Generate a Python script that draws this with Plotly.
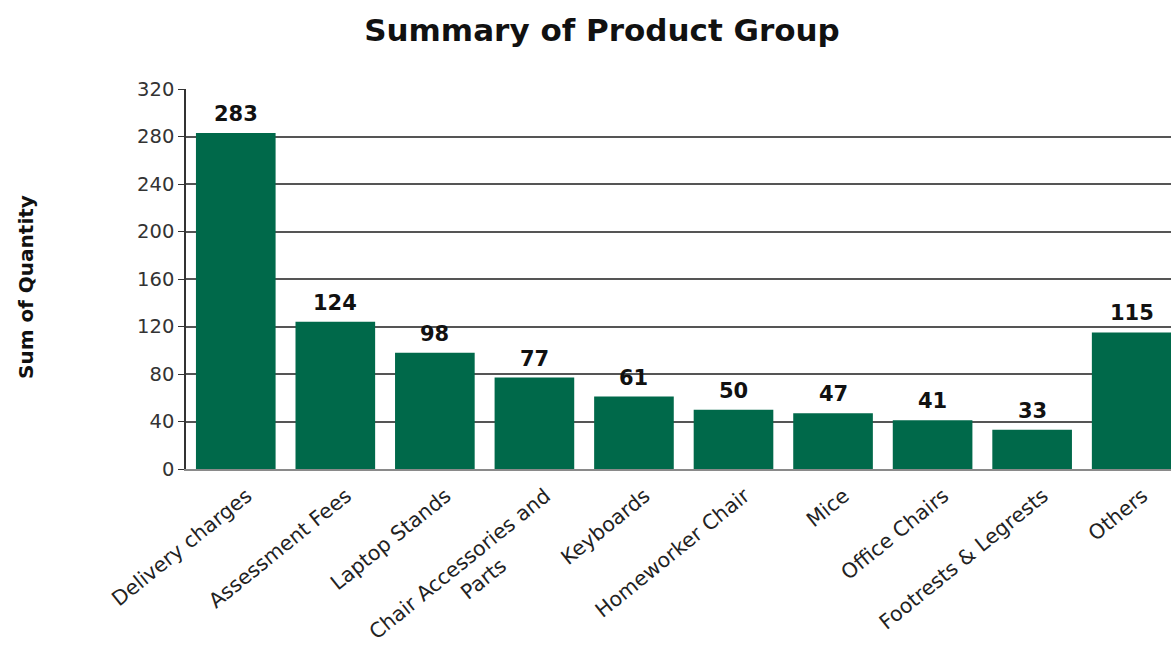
import plotly.graph_objects as go

# Product groups and their summed quantities
categories = [
    "Delivery charges",
    "Assessment Fees",
    "Laptop Stands",
    "Chair Accessories and<br>Parts" + "\u00a0" * 12,
    "Keyboards",
    "Homeworker Chair",
    "Mice",
    "Office Chairs",
    "Footrests & Legrests",
    "Others",
]
quantities = [283, 124, 98, 77, 61, 50, 47, 41, 33, 115]
y_ticks = [0, 40, 80, 120, 160, 200, 240, 280, 320]

BAR_GREEN = "#00694A"
FONT = "DejaVu Sans, Verdana, sans-serif"

positions = list(range(len(categories)))

fig = go.Figure(
    go.Bar(
        x=positions,
        y=quantities,
        marker=dict(color=BAR_GREEN, line=dict(width=0)),
        hoverinfo="skip",
    )
)

# value labels sitting just above each bar
value_labels = [
    dict(
        x=xi,
        y=v,
        xref="x",
        yref="y",
        text=f"<b>{v}</b>",
        showarrow=False,
        xanchor="center",
        yanchor="bottom",
        yshift=5,
        font=dict(family=FONT, size=21, color="#111111"),
    )
    for xi, v in zip(positions, quantities)
]

fig.update_layout(
    width=1171,
    height=646,
    margin=dict(l=186, r=0, t=89, b=177, autoexpand=False),
    paper_bgcolor="white",
    plot_bgcolor="white",
    bargap=0.2,
    showlegend=False,
    font=dict(family=FONT, color="#222222"),
    title=dict(
        text="<b>Summary of Product Group</b>",
        x=602 / 1171,
        xanchor="center",
        y=1 - 30 / 646,
        yanchor="middle",
        font=dict(family=FONT, size=31, color="#111111"),
    ),
    xaxis=dict(
        range=[-0.5, 9.395],
        tickmode="array",
        tickvals=positions,
        ticktext=categories,
        tickangle=-39,
        tickfont=dict(family=FONT, size=20.5, color="#222222"),
        showgrid=False,
        showline=True,
        linecolor="#8a8a8a",
        linewidth=2,
        ticks="",
        ticklabelstandoff=5,
        ticklabelshift=11,
        zeroline=False,
        automargin=False,
    ),
    yaxis=dict(
        range=[0, 320],
        tickmode="array",
        tickvals=y_ticks,
        tickfont=dict(family=FONT, size=19.5, color="#333333"),
        showgrid=True,
        gridcolor="#555555",
        gridwidth=1.5,
        showline=True,
        linecolor="#333333",
        linewidth=1.5,
        ticks="outside",
        ticklen=6,
        tickcolor="#333333",
        zeroline=False,
        automargin=False,
    ),
    annotations=value_labels
    + [
        dict(
            text="<b>Sum of Quantity</b>",
            textangle=-90,
            xref="paper",
            yref="paper",
            x=(26 - 186) / 985,
            y=(469 - 287) / 380,
            xanchor="center",
            yanchor="middle",
            showarrow=False,
            font=dict(family=FONT, size=20, color="#111111"),
        )
    ],
)

fig.write_html("out.html")
